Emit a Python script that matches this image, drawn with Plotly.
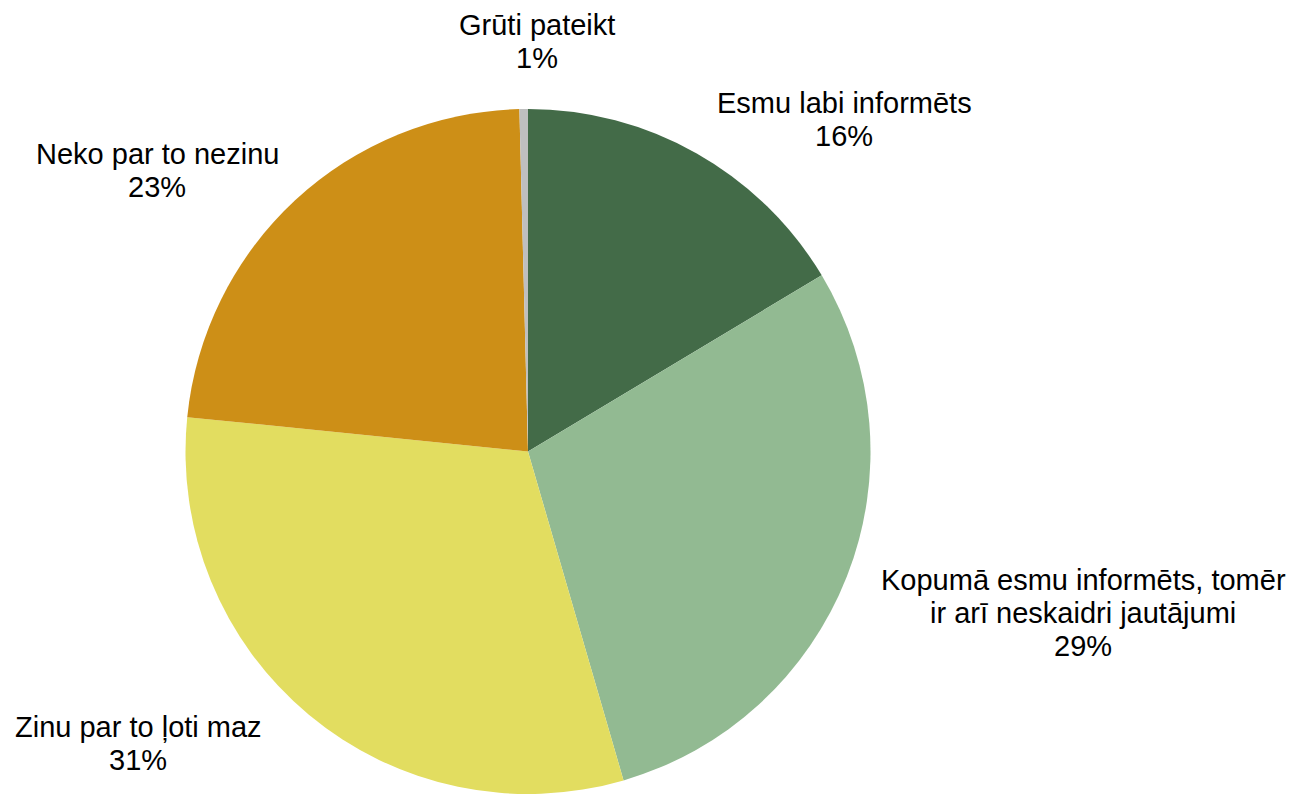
import plotly.graph_objects as go

categories = [
    "Esmu labi informēts",
    "Kopumā esmu informēts, tomēr<br>ir arī neskaidri jautājumi",
    "Zinu par to ļoti maz",
    "Neko par to nezinu",
    "Grūti pateikt",
]
values = [16.4, 29.1, 31.1, 23.0, 0.4]
pct_labels = ["16%", "29%", "31%", "23%", "1%"]
colors = ["#436B48", "#92BA92", "#E2DD60", "#CD8F17", "#BFBFBF"]

# label block placement (pixels in 1291x794 canvas): centre x, first-line centre y
label_x = [844, 1083, 138, 157, 537]
label_y = [103, 580, 727, 154, 25]
LINE_STEP = 33
FONT = dict(family="Liberation Sans, Arial, sans-serif", size=29, color="#000000")

W, H = 1291, 794

fig = go.Figure(go.Pie(
    labels=[c.replace("<br>", " ") for c in categories],
    values=values,
    sort=False,
    direction="clockwise",
    rotation=0,
    marker=dict(colors=colors, line=dict(width=0)),
    textposition="none",
    hoverinfo="label+percent",
    domain=dict(x=[(528 - 343) / W, (528 + 343) / W], y=[0, (H - 109) / H]),
    showlegend=False,
))

for cat, pct, lx, ly in zip(categories, pct_labels, label_x, label_y):
    lines = cat.split("<br>") + [pct]
    for i, line in enumerate(lines):
        fig.add_annotation(
            text=line,
            x=lx / W, y=(H - (ly + i * LINE_STEP)) / H,
            xref="paper", yref="paper",
            xanchor="center", yanchor="middle",
            showarrow=False, align="center",
            font=FONT,
        )

fig.update_layout(
    width=W, height=H,
    margin=dict(l=0, r=0, t=0, b=0),
    paper_bgcolor="white",
    plot_bgcolor="white",
    font=FONT,
)

fig.write_html(
    "out.html",
    config={"displayModeBar": False},
    post_script="document.body.style.margin='0';document.body.style.overflow='hidden';",
)
